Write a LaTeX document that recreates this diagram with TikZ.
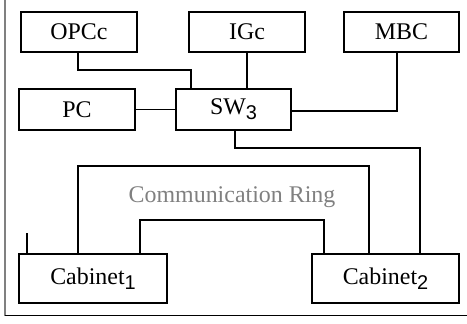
\documentclass[tikz,border=0pt]{standalone}
\usepackage{fontspec}
\setmainfont{Liberation Serif}
\setsansfont{Liberation Sans}
\definecolor{ringgray}{RGB}{128,128,128}
\newcommand{\subsf}[1]{\raisebox{-5bp}{\fontsize{20}{22}\sffamily #1}}
\begin{document}
\begin{tikzpicture}[x=1bp,y=-1bp,
  box/.style={draw,line width=1.6bp,inner sep=0pt,font=\fontsize{24}{28}\selectfont},
  wire/.style={line width=1.6bp}]
\useasboundingbox (0,0) rectangle (467,323);
\draw[line width=1.8bp,color=ringgray] (5,0) coordinate (ftop) -- (5,315.5) coordinate (fcorner);
\draw[line width=1.4bp] (fcorner) -- (467,315.5) coordinate (fend);
\node[box,minimum width=116bp,minimum height=40bp] (OPCc) at (79,32) {OPCc};
\node[box,minimum width=116bp,minimum height=40bp] (IGc) at (247,32) {IGc};
\node[box,minimum width=115bp,minimum height=40bp] (MBC) at (401.5,32) {MBC};
\node[box,minimum width=116bp,minimum height=41bp] (PC) at (77,109.5) {PC};
\node[box,minimum width=115bp,minimum height=41bp] (SW) at (233.5,109.5) {SW\subsf{3}};
\node[box,minimum width=148bp,minimum height=49bp] (Cab1) at (93,278.5) {Cabinet\subsf{1}};
\node[box,minimum width=147bp,minimum height=49bp] (Cab2) at (385.5,278.5) {Cabinet\subsf{2}};
\node[font=\fontsize{24}{28}\selectfont,text=ringgray] (ring) at (232,197) {Communication Ring};
\draw[wire] ([xshift=-1bp]OPCc.south) -- ++(0,17) -| ([xshift=-42.5bp]SW.north);
\draw[wire] (IGc.south) -- (IGc.south |- SW.north);
\draw[wire] ([xshift=-4.5bp]MBC.south) |- ([yshift=-1.5bp]SW.east);
\draw[wire] (PC.east) -- (SW.west);
\draw[wire] ([xshift=1.5bp]SW.south) -- ++(0,17) -| ([xshift=34.5bp]Cab2.north);
\draw[wire] ([xshift=-15bp]Cab1.north) -- ++(0,-87) -| ([xshift=-16.5bp]Cab2.north);
\draw[wire] ([xshift=47bp]Cab1.north) -- ++(0,-33) -| ([xshift=-61.5bp]Cab2.north);
\draw[wire] ([xshift=-66bp]Cab1.north) -- ++(0,-20) coordinate (stub);
\end{tikzpicture}
\end{document}
